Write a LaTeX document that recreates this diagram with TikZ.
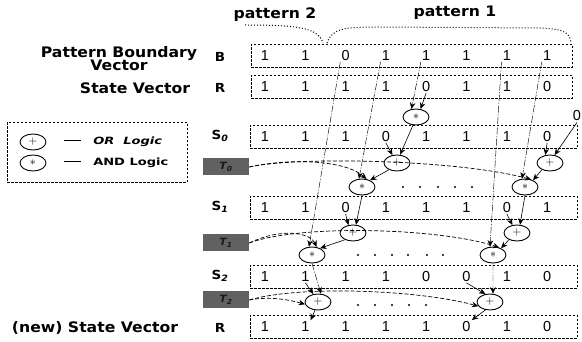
\documentclass[tikz,border=0pt]{standalone}
\usepackage{fontspec}
\setmainfont{DejaVu Sans}
\newfontfamily\plotfont[FakeStretch=1.08]{DejaVu Sans}
\newfontfamily\legfont[FakeStretch=1.3]{DejaVu Sans}
\newfontfamily\bitfont{Liberation Sans}
\usetikzlibrary{shapes.geometric,arrows.meta}

\tikzset{every picture/.style={line width=0.6pt}}
\tikzset{
	vecbox/.style={draw, dash pattern=on 2.5pt off 1.5pt, line width=0.7pt, inner sep=0pt, anchor=north west},
	bit/.style={font=\bitfont\fontsize{14.5}{15}\selectfont, inner sep=1pt},
	gate/.style={ellipse, draw, line width=0.9pt, minimum width=26pt, minimum height=16pt, inner sep=0pt, font=\fontsize{13}{13}\selectfont},
	tag/.style={fill=black!62, minimum width=46pt, minimum height=17pt, inner sep=0pt, font=\plotfont\bfseries\itshape, text=black!90},
	wire/.style={-{Stealth[length=6.5pt,width=5.5pt]}, line width=0.6pt},
	bline/.style={-{Stealth[length=6.5pt,width=5.5pt]}, dash pattern=on 7pt off 1.5pt on 1pt off 1.5pt, line width=0.45pt},
	tline/.style={-{Stealth[length=6.5pt,width=5.5pt]}, dash pattern=on 4pt off 2pt, line width=0.7pt},
	brace/.style={dotted, line width=1pt},
	rowlab/.style={font=\plotfont\bfseries\fontsize{14.5}{16}\selectfont, align=center, inner sep=0pt},
	veclab/.style={font=\plotfont\bfseries\fontsize{12.5}{14}\selectfont, inner sep=0pt},
	legtext/.style={font=\legfont\bfseries\fontsize{10}{12}\selectfont, anchor=west, inner sep=0pt}
}

\begin{document}
\begin{tikzpicture}[x=1pt,y=1pt,yscale=-1,xscale=1]
	\useasboundingbox (0,0) rectangle (582,342);

	%Shape: Brace pattern 2
	\draw[brace] (245,25) .. controls (300,25) and (318,28) .. (323,43);
	%Shape: Brace pattern 1
	\draw[brace] (327,43) .. controls (332,28) and (345,27) .. (380,27) -- (540,28) .. controls (565,29) and (570,33) .. (571,43);

	% Text Node
	\node[rowlab] (pat2) at (275,15) {pattern 2};
	% Text Node
	\node[rowlab] (pat1) at (455,13) {pattern 1};
	% Text Node
	\node[rowlab] (pbv) at (119,59) {Pattern Boundary\\[-3pt]Vector};
	% Text Node
	\node[rowlab] (sv) at (135,88) {State Vector};
	% Text Node
	\node[rowlab] (nsv) at (95,328) {(new) State Vector};

	% Vector names
	\node[veclab] (labB) at (220,57) {B};
	\node[veclab] (labR) at (220,88) {R};
	\node[veclab] (labS0) at (220,136) {S\textsubscript{\itshape 0}};
	\node[veclab] (labS1) at (220,207) {S\textsubscript{\itshape 1}};
	\node[veclab] (labS2) at (220,276) {S\textsubscript{\itshape 2}};
	\node[veclab] (labRn) at (220,328) {R};

	%Shape: Rectangle (vectors)
	\node[vecbox, minimum width=321pt, minimum height=23pt] (boxB) at (251,44) {};
	\node[vecbox, minimum width=321pt, minimum height=23pt] (boxR) at (251,75) {};
	\node[vecbox, minimum width=327pt, minimum height=23pt] (boxS0) at (250,125) {};
	\node[vecbox, minimum width=327pt, minimum height=23pt] (boxS1) at (250,196) {};
	\node[vecbox, minimum width=327pt, minimum height=23pt] (boxS2) at (250,265) {};
	\node[vecbox, minimum width=327pt, minimum height=23pt] (boxRn) at (250,315) {};

	% Bits
	\foreach \row/\y/\vals in {B/55.5/{1,1,0,1,1,1,1,1}, R/86.5/{1,1,1,1,0,1,1,0}, S0/136.5/{1,1,1,0,1,1,1,0}, S1/207.5/{1,1,0,1,1,1,0,1}, S2/276.5/{1,1,1,1,0,0,1,0}, Rn/326.5/{1,1,1,1,1,0,1,0}}
		\foreach \v [count=\i] in \vals
			\node[bit] (\row-\i) at ({265+40.3*(\i-1)},\y) {\v};
	% Text Node
	\node[bit] (zin) at (577,116) {0};

	% Gates
	\node[gate] (a0) at (416,117) {$*$};
	\node[gate] (o1L) at (397,163) {$+$};
	\node[gate] (o1R) at (550,163) {$+$};
	\node[gate] (a1L) at (362,187) {$*$};
	\node[gate] (a1R) at (525,187) {$*$};
	\node[gate] (o2L) at (353,233) {$+$};
	\node[gate] (o2R) at (517,233) {$+$};
	\node[gate] (a2L) at (312,255) {$*$};
	\node[gate] (a2R) at (493,255) {$*$};
	\node[gate] (o3L) at (318,302) {$+$};
	\node[gate] (o3R) at (490,302) {$+$};

	% Tags
	\node[tag] (T0) at (226,167) {T\textsubscript{0}};
	\node[tag] (T1) at (226,243) {T\textsubscript{1}};
	\node[tag] (T2) at (226,300) {T\textsubscript{2}};

	% Boundary lines
	\draw[bline] (B-3.south west) -- (a2L.110);
	\draw[bline] (B-4.south west) -- (a1L.110);
	\draw[bline] (B-5.south west) -- (a0.120);
	\draw[bline] (B-7.south west) -- (a2R.110);
	\draw[bline] (B-8.south west) -- (a1R.110);
	\draw[wire] (R-5.south) -- (a0.60);

	% Step 0
	\draw[wire] (S0-4.south) -- (o1L.120);
	\draw[wire] (a0.250) -- (o1L.70);
	\draw[wire] (S0-8.south) -- (o1R.120);
	\draw[wire] (zin.south) -- (o1R.60);
	\draw[wire] (o1L.220) -- (a1L.40);
	\draw[wire] (o1R.220) -- (a1R.40);
	\draw[tline] (T0.east) .. controls (290,158) and (345,160) .. (a1L.60);
	\draw[tline] (T0.east) .. controls (300,156) and (460,160) .. (a1R.50);

	% Step 1
	\draw[wire] (a1L.south) -- (o2L.70);
	\draw[wire] (S1-3.south) -- (o2L.120);
	\draw[wire] (a1R.south) -- (o2R.70);
	\draw[wire] (S1-7.south) -- (o2R.120);
	\draw[wire] (o2L.220) -- (a2L.40);
	\draw[wire] (o2R.220) -- (a2R.40);
	\draw[tline] (T1.east) .. controls (280,228) and (310,232) .. (a2L.60);
	\draw[tline] (T1.east) .. controls (300,224) and (440,228) .. (a2R.50);

	% Step 2
	\draw[bline] (a2L.south) -- (o3L.70);
	\draw[wire] (S2-2.south) -- (o3L.120);
	\draw[bline] (a2R.south) -- (o3R.70);
	\draw[wire] (S2-6.south) -- (o3R.120);
	\draw[wire] (o3L.250) -- (Rn-2.north east);
	\draw[wire] (o3R.240) -- (Rn-6.north east);
	\draw[tline] (T2.east) .. controls (270,296) and (290,300) .. (o3L.190);
	\draw[tline] (T2.east) .. controls (300,285) and (420,290) .. (o3R.200);

	% Dots
	\foreach \x in {403,420,438,455,472} \fill (\x,187) circle (1.1pt);
	\foreach \x in {358,375,392,408,427,443} \fill (\x,255) circle (1.1pt);
	\foreach \x in {358,375,392,409,426} \fill (\x,305) circle (1.1pt);

	%Shape: Rectangle (legend)
	\node[vecbox, minimum width=180pt, minimum height=60pt] (legend) at (7,122) {};
	\node[gate] (lgOr) at (33,142) {$+$};
	\node[gate] (lgAnd) at (33,163) {$*$};
	% Text Node
	\node[legtext] (lgOrTxt) at (64,142) {\rule[3.5pt]{17pt}{1.6pt}\hspace{12pt}\textit{OR\ \ Logic}};
	% Text Node
	\node[legtext] (lgAndTxt) at (64,163) {\rule[3.5pt]{17pt}{1.6pt}\hspace{12pt}AND Logic};

\end{tikzpicture}
\end{document}
